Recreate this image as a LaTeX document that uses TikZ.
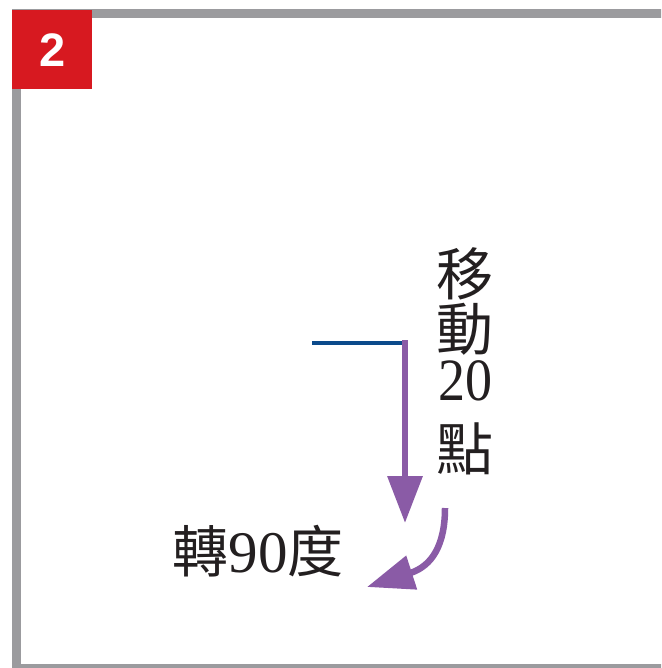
\documentclass[tikz,border=0pt]{standalone}
\usepackage{fontspec}
\setmainfont{Liberation Serif}
\newfontfamily\cjk{Noto Sans CJK TC}
\newfontfamily\badgefont{Liberation Sans}
\usetikzlibrary{arrows.meta}
\definecolor{framegray}{HTML}{9B9B9E}
\definecolor{badgered}{HTML}{D71920}
\definecolor{pathblue}{HTML}{0B4A8B}
\definecolor{turnpurple}{HTML}{8A5BA6}
\definecolor{textdark}{HTML}{231F20}
\begin{document}
\begin{tikzpicture}[x=1pt,y=-1pt,
  purplearrow/.style={draw=turnpurple, line width=6.5pt, -{Triangle[length=47pt,width=34pt]}},
  label/.style={text=textdark, inner sep=0pt},
  cjkfont/.style={font=\cjk\fontsize{57}{57}\selectfont},
  numfont/.style={font=\fontsize{60}{60}\selectfont}]
\useasboundingbox (0,0) rectangle (661,668);
\clip (0,0) rectangle (661,668);
% frame
\draw[framegray, line width=9pt] (16.5,14) rectangle (690,668);
% badge
\node[fill=badgered, minimum width=80pt, minimum height=79pt, inner sep=0pt,
      anchor=north west, text=white, font=\badgefont\bfseries\fontsize{47}{47}\selectfont]
      (badge) at (12,10) {2};
% path
\coordinate (lineStart) at (312,342.5);
\coordinate (corner) at (405,342.5);
\coordinate (tipDown) at (405,523);
\coordinate (turnStart) at (445,508);
\coordinate (turnTip) at (367,587);
\draw[pathblue, line width=4pt] (lineStart) -- (corner);
\draw[purplearrow] (405,340) -- (tipDown);
\draw[purplearrow] (turnStart) .. controls (445,545) and (432,566) .. (turnTip);
% texts
\node[label, cjkfont] (m1) at (465,274) {移};
\node[label, cjkfont] (m2) at (465,329) {動};
\node[label, numfont] (m3) at (465,381) {\scalebox{0.9}[1]{20}};
\node[label, cjkfont] (m4) at (465,449) {點};
\node[label] (turn) at (258,551) {{\cjk\fontsize{56}{56}\selectfont 轉}{\fontsize{59}{59}\selectfont 90}{\cjk\fontsize{56}{56}\selectfont 度}};
\end{tikzpicture}
\end{document}
